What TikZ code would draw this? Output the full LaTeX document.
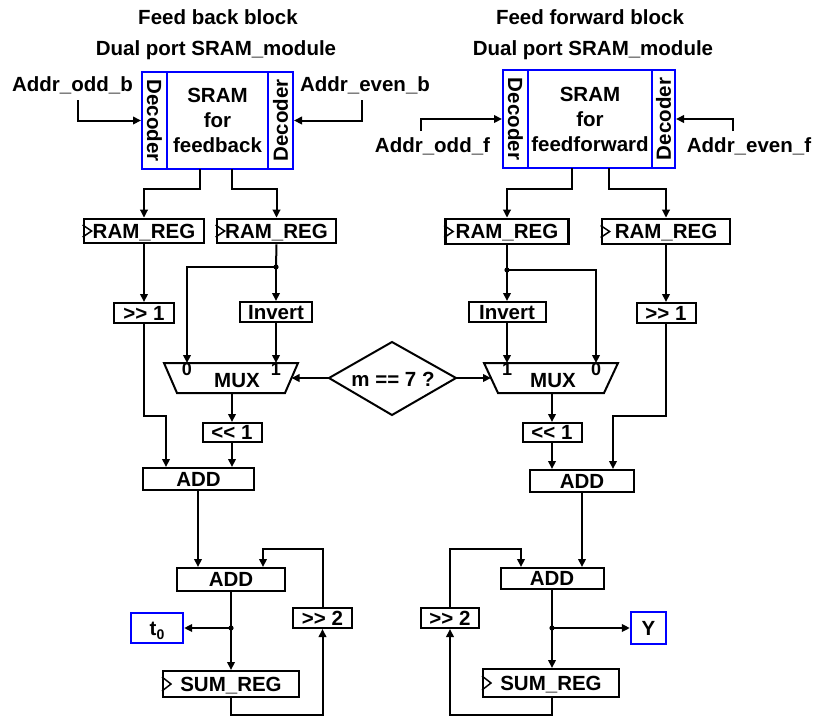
\documentclass[tikz,border=0pt]{standalone}
\usepackage{fontspec}
\setmainfont{Liberation Sans}[Ligatures=TeXOff]
\usetikzlibrary{arrows.meta}
\begin{document}
\begin{tikzpicture}[x=1pt,y=-1pt,
  every node/.style={font=\fontsize{20.5}{23}\selectfont\bfseries, inner sep=0pt, text height=14.7pt, text depth=0pt},
  blk/.style={draw, line width=2pt},
  reg/.style={draw, line width=2.7pt},
  bluebox/.style={draw=blue, line width=2pt},
  wire/.style={line width=2pt},
  arr/.style={wire, -{Triangle[length=8pt,width=7.5pt]}},
  clk/.style={line width=1.5pt},
  small/.style={font=\fontsize{18}{19}\selectfont\bfseries, text height=12.9pt}
]
\useasboundingbox (0,0) rectangle (817,716);

% ---------------- Feed back block ----------------
\node (titleL) at (218,17) {Feed back block};
\node (dualL) at (216,48) {Dual port SRAM\_module};
\node[bluebox, minimum width=101pt, minimum height=97pt, align=center, text height=, text depth=, font=\fontsize{20.5}{25}\selectfont\bfseries] (sramLm) at (217.5,120.5) {SRAM\\for\\feedback};
\node[bluebox, rotate=-90, minimum width=97pt, minimum height=25pt] (decL1) at (154.5,120.5) {Decoder};
\node[bluebox, rotate=90, minimum width=97pt, minimum height=25pt] (decL2) at (280.5,120.5) {Decoder};
\node (addrOddB) at (72.5,84) {Addr\_odd\_b};
\node (addrEvenB) at (365,84) {Addr\_even\_b};
\coordinate (aob) at (78,100);
\coordinate (aeb) at (362,100);
\draw[arr] (aob) |- (decL1);
\draw[arr] (aeb) |- (decL2);

\node[reg, minimum width=120pt, minimum height=24pt] (ramL1) at (144,231) {RAM\_REG};
\node[reg, minimum width=119pt, minimum height=24pt] (ramL2) at (276.5,231) {RAM\_REG};
\draw[clk] ([yshift=6pt]ramL1.west) -- ++(9,6) -- ++(-9,6);
\draw[clk] ([yshift=6pt]ramL2.west) -- ++(9,6) -- ++(-9,6);
\coordinate (oL1) at (200,169);
\coordinate (oL2) at (232,169);
\draw[arr] (oL1) -- ++(0,20) -| (ramL1.north);
\draw[arr] (oL2) -- ++(0,20) -| (ramL2.north);

\node[blk, minimum width=60pt, minimum height=20pt] (shrL) at (144,313) {>> 1};
\node[blk, minimum width=72pt, minimum height=20pt] (invL) at (276,312) {Invert};
\coordinate (jL) at (276,267);
\fill (jL) circle (2.6pt);

% MUX left
\coordinate (mLtl) at (164,363);
\coordinate (mLtr) at (298,363);
\coordinate (mLbr) at (285,393);
\coordinate (mLbl) at (177,393);
\draw[wire, line join=miter] (mLtl) -- (mLtr) -- (mLbr) -- (mLbl) -- cycle;
\node (muxL) at (237,380) {MUX};
\node[small] (muxL0) at (187,369.5) {0};
\node[small] (muxL1) at (276,369.5) {1};
\coordinate (mL0) at (187,363);
\coordinate (mL1) at (276,363);
\coordinate (mLin) at (291.5,378);
\coordinate (mLout) at (232,393);

\draw[arr] (ramL1.south) -- (shrL.north);
\draw[wire] (ramL2.south) -- (jL);
\draw[arr] (jL) -- (invL.north);
\draw[arr] (jL) -| (mL0);
\draw[arr] (invL.south) -- (mL1);

% condition diamond
\coordinate (dl) at (329,378);
\coordinate (dt) at (392,342);
\coordinate (dr) at (456,378);
\coordinate (db) at (392,415);
\draw[wire, line join=miter] (dl) -- (dt) -- (dr) -- (db) -- cycle;
\node (cond) at (393,379) {m == 7 ?};
\draw[arr] (dl) -- (mLin);

\node[blk, minimum width=59pt, minimum height=19pt] (shlL) at (232,432.5) {<< 1};
\node[blk, minimum width=111pt, minimum height=22pt] (addL1) at (198.5,479) {ADD};
\draw[arr] (mLout) -- (shlL.north);
\draw[arr] (shlL.south) -- ([xshift=33.5pt]addL1.north);
\draw[arr] (shrL.south) -- ++(0,92) -| ([xshift=-32.5pt]addL1.north);

\node[blk, minimum width=108pt, minimum height=23pt] (addL2) at (231,579.5) {ADD};
\node[blk, minimum width=59pt, minimum height=20pt] (shr2L) at (322.5,618) {>> 2};
\node[bluebox, line width=2.3pt, minimum width=52pt, minimum height=30pt] (t0) at (157,628) {t\raisebox{-4pt}{\fontsize{14}{14}\selectfont 0}};
\node[blk, minimum width=136pt, minimum height=26pt] (sumL) at (231,684) {SUM\_REG};
\draw[clk] ([yshift=7pt]sumL.west) -- ++(9,7) -- ++(-9,7);
\coordinate (jL2) at (231,628);
\fill (jL2) circle (2.6pt);
\draw[arr] ([xshift=-0.5pt]addL1.south) -- ([xshift=-33pt]addL2.north);
\draw[wire] (addL2.south) -- (jL2);
\draw[arr] (jL2) -- (sumL.north);
\draw[arr] (jL2) -- (t0.east);
\draw[arr] (sumL.south) -- ++(0,17) -| (shr2L.south);
\draw[arr] (shr2L.north) -- ++(0,-58) -| ([xshift=32pt]addL2.north);

% ---------------- Feed forward block ----------------
\node (titleR) at (590,17) {Feed forward block};
\node (dualR) at (593,48) {Dual port SRAM\_module};
\node[bluebox, minimum width=124pt, minimum height=98pt, align=center, text height=, text depth=, font=\fontsize{20.5}{25}\selectfont\bfseries] (sramRm) at (590,119) {SRAM\\for\\feedforward};
\node[bluebox, rotate=-90, minimum width=98pt, minimum height=25pt] (decR1) at (515.5,119) {Decoder};
\node[bluebox, rotate=90, minimum width=98pt, minimum height=23pt] (decR2) at (663.5,119) {Decoder};
\node (addrOddF) at (432.5,145) {Addr\_odd\_f};
\node (addrEvenF) at (749,145) {Addr\_even\_f};
\coordinate (aof) at (421,131);
\coordinate (aef) at (733,131);
\draw[arr] (aof) |- (decR1);
\draw[arr] (aef) |- (decR2);

\node[reg, minimum width=123pt, minimum height=25pt] (ramR1) at (507,231.5) {RAM\_REG};
\node[reg, minimum width=128pt, minimum height=25pt] (ramR2) at (666,231.5) {RAM\_REG};
\draw[clk] ([yshift=6pt]ramR1.west) -- ++(9,6) -- ++(-9,6);
\draw[clk] ([yshift=6pt]ramR2.west) -- ++(9,6) -- ++(-9,6);
\coordinate (oR1) at (572,168);
\coordinate (oR2) at (609,168);
\draw[arr] (oR1) -- ++(0,21) -| (ramR1.north);
\draw[arr] (oR2) -- ++(0,21) -| (ramR2.north);

\node[blk, minimum width=77pt, minimum height=20pt] (invR) at (507,312) {Invert};
\node[blk, minimum width=59pt, minimum height=20pt] (shrR) at (666,313) {>> 1};
\coordinate (jR) at (507,270);
\fill (jR) circle (2.6pt);

% MUX right
\coordinate (mRtl) at (484,363);
\coordinate (mRtr) at (618,363);
\coordinate (mRbr) at (604,393);
\coordinate (mRbl) at (498,393);
\draw[wire, line join=miter] (mRtl) -- (mRtr) -- (mRbr) -- (mRbl) -- cycle;
\node (muxR) at (553,380) {MUX};
\node[small] (muxR1) at (507,369.5) {1};
\node[small] (muxR0) at (596,369.5) {0};
\coordinate (mR1) at (507,363);
\coordinate (mR0) at (596,363);
\coordinate (mRin) at (491,378);
\coordinate (mRout) at (552,393);

\draw[wire] (ramR1.south) -- (jR);
\draw[arr] (jR) -- (invR.north);
\draw[arr] (jR) -| (mR0);
\draw[arr] (invR.south) -- (mR1);
\draw[arr] (dr) -- (mRin);

\node[blk, minimum width=59pt, minimum height=19pt] (shlR) at (552,432.5) {<< 1};
\node[blk, minimum width=104pt, minimum height=22pt] (addR1) at (582,481) {ADD};
\draw[arr] (mRout) -- (shlR.north);
\draw[arr] (shlR.south) -- ([xshift=-30pt]addR1.north);
\draw[arr] (ramR2.south) -- (shrR.north);
\draw[arr] (shrR.south) -- ++(0,92) -| ([xshift=31pt]addR1.north);

\node[blk, minimum width=103pt, minimum height=21pt] (addR2) at (552,578.5) {ADD};
\node[blk, minimum width=58pt, minimum height=20pt] (shr2R) at (450,618) {>> 2};
\node[bluebox, line width=2.3pt, minimum width=35pt, minimum height=32pt] (Y) at (648.5,628) {Y};
\node[blk, minimum width=136pt, minimum height=28pt] (sumR) at (551,683) {SUM\_REG};
\draw[clk] ([yshift=7pt]sumR.west) -- ++(9,7) -- ++(-9,7);
\coordinate (jR2) at (552,628);
\fill (jR2) circle (2.6pt);
\draw[arr] (addR1.south) -- ([xshift=30pt]addR2.north);
\draw[wire] (addR2.south) -- (jR2);
\draw[arr] (jR2) -- ([xshift=1pt]sumR.north);
\draw[arr] (jR2) -- (Y.west);
\draw[arr] ([xshift=1pt]sumR.south) -- ++(0,17) -| (shr2R.south);
\draw[arr] (shr2R.north) -- ++(0,-58) -| ([xshift=-31pt]addR2.north);
\end{tikzpicture}
\end{document}
